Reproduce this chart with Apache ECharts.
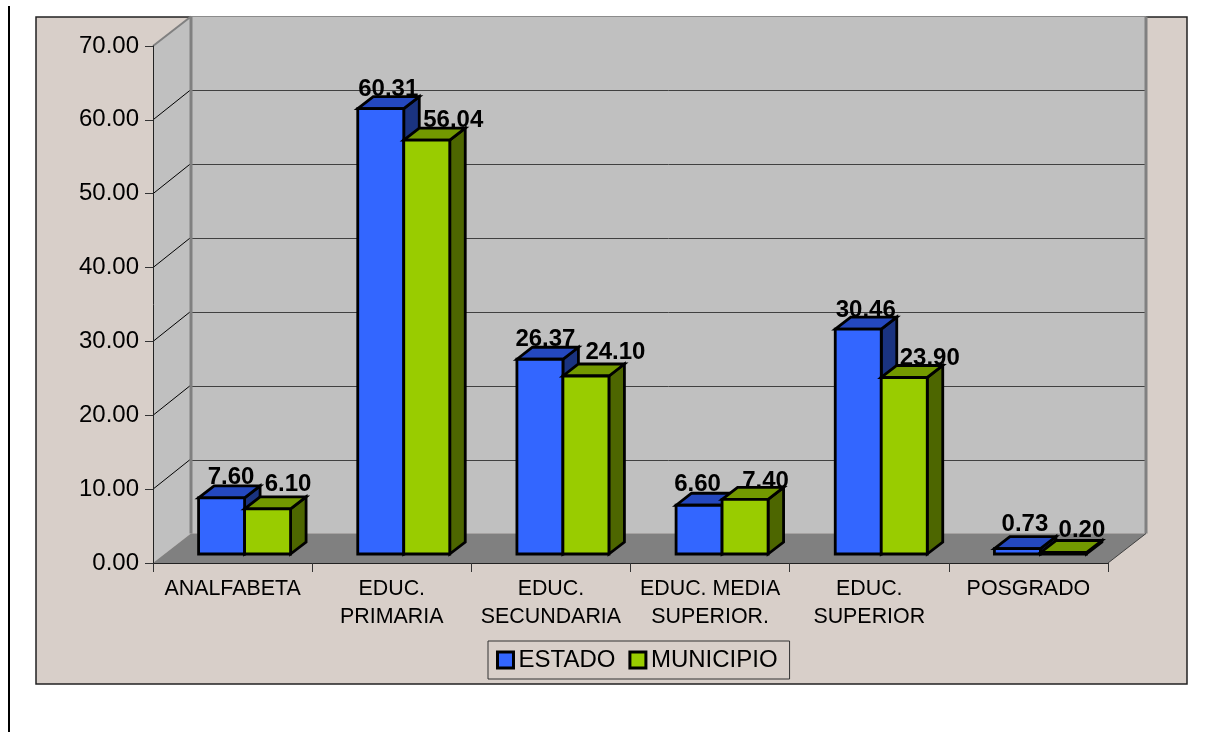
<!DOCTYPE html>
<html>
<head>
<meta charset="utf-8">
<style>html,body{margin:0;padding:0;background:#fff}#c{width:1205px;height:732px}</style>
<script src="https://cdn.jsdelivr.net/npm/echarts@6/dist/echarts.min.js"></script>
</head>
<body>
<div id="c"></div>
<script>
var categories = ['ANALFABETA', 'EDUC.\nPRIMARIA', 'EDUC.\nSECUNDARIA', 'EDUC. MEDIA\nSUPERIOR.', 'EDUC.\nSUPERIOR', 'POSGRADO'];
var estado = [7.60, 60.31, 26.37, 6.60, 30.46, 0.73];
var municipio = [6.10, 56.04, 24.10, 7.40, 23.90, 0.20];
var yTicks = [0, 10, 20, 30, 40, 50, 60, 70];

// Label placement relative to the top-back edge of each bar
var estadoLabelDx = [10, 8, 6, -1, 8, 8];
var estadoLabelDy = [-8, -7, -8, -9, -7, -12];
var municipioLabelDx = [21, 27, 30, 21, 26, 19];
var municipioLabelDy = [-13, -8, -12, -6, -7, -10];

var FONT = '"Liberation Sans", Arial, sans-serif';
var WALL_DX = 38, WALL_DY = 29.5;   // depth of the whole plot box
var BAR_DX = 15.5, BAR_DY = 12;   // depth of a bar
var FRONT_DX = 12, FRONT_DY = 9; // gap in front of the bars
var BAR_W = 46;

function poly(points, fill, stroke, lw) {
  return { type: 'polygon', shape: { points: points },
    style: { fill: fill, stroke: stroke || null, lineWidth: lw || 0, lineJoin: 'miter' } };
}
function seg(x1, y1, x2, y2, stroke, lw) {
  return { type: 'line', shape: { x1: x1, y1: y1, x2: x2, y2: y2 },
    style: { stroke: stroke, lineWidth: lw, fill: null } };
}

function renderWalls(params, api) {
  var r = params.coordSys, L = r.x, T = r.y, R = r.x + r.width, B = r.y + r.height;
  var kids = [
    poly([[L, T], [L + WALL_DX, T - WALL_DY], [L + WALL_DX, B - WALL_DY], [L, B]], '#C0C0C0'),
    poly([[L + WALL_DX, T - WALL_DY], [R + WALL_DX, T - WALL_DY], [R + WALL_DX, B - WALL_DY], [L + WALL_DX, B - WALL_DY]], '#C0C0C0'),
    poly([[L, B], [L + WALL_DX, B - WALL_DY], [R + WALL_DX, B - WALL_DY], [R, B]], '#808080')
  ];
  yTicks.forEach(function (t) {
    var y = api.coord([0, t])[1];
    if (t > 0 && t < yTicks[yTicks.length - 1]) {
      kids.push(seg(L + WALL_DX, Math.round(y - WALL_DY) + 0.5, R + WALL_DX, Math.round(y - WALL_DY) + 0.5, '#404040', 1));
      kids.push(seg(L, y, L + WALL_DX - 1, y - WALL_DY, '#000', 1));
    }
  });
  kids.push(seg(L, T, L + WALL_DX, T - WALL_DY, '#808080', 2));
  kids.push(seg(L + WALL_DX, T - WALL_DY, L + WALL_DX, B - WALL_DY, '#808080', 3));
  kids.push(seg(R + WALL_DX, T - WALL_DY, R + WALL_DX, B - WALL_DY, '#808080', 3));
  kids.push(seg(R, B, R + WALL_DX, B - WALL_DY, '#404040', 1));
  return { type: 'group', children: kids };
}

function barRenderer(slot, front, top, side, dxs, dys) {
  return function (params, api) {
    var i = api.value(0), v = api.value(1);
    var base = api.coord([i, 0]), peak = api.coord([i, v]);
    var x0 = base[0] + FRONT_DX + slot * BAR_W, x1 = x0 + BAR_W;
    var yB = base[1] - FRONT_DY, yT = peak[1] - FRONT_DY;
    var lw = 2.8, edge = '#000';
    return { type: 'group', children: [
      poly([[x1, yT], [x1 + BAR_DX, yT - BAR_DY], [x1 + BAR_DX, yB - BAR_DY], [x1, yB]], side, edge, lw),
      poly([[x0, yT], [x0 + BAR_DX, yT - BAR_DY], [x1 + BAR_DX, yT - BAR_DY], [x1, yT]], top, edge, lw),
      poly([[x0, yT], [x1, yT], [x1, yB], [x0, yB]], front, edge, lw),
      { type: 'text', z2: 50, style: {
        text: v.toFixed(2),
        x: (x0 + x1) / 2 - 0.5 + dxs[i],
        y: yT - BAR_DY + dys[i],
        align: 'center', verticalAlign: 'middle',
        font: 'bold 24px ' + FONT, fill: '#000' } }
    ] };
  };
}

function pairs(arr) { return arr.map(function (v, i) { return [i, v]; }); }

var chart = echarts.init(document.getElementById('c'), null, { width: 1205, height: 732 });
chart.setOption({
  animation: false,
  backgroundColor: '#fff',
  graphic: [
    { type: 'rect', z: -10, silent: true, shape: { x: 36, y: 17, width: 1151, height: 667 },
      style: { fill: '#D8CFC9', stroke: '#222', lineWidth: 1.5 } },
    { type: 'line', z: -10, silent: true, shape: { x1: 9, y1: 6, x2: 9, y2: 732 },
      style: { stroke: '#000', lineWidth: 2 } }
  ],
  grid: { left: 153, top: 46, width: 955, height: 517, containLabel: false },
  legend: {
    left: 488, top: 641,
    data: ['ESTADO', 'MUNICIPIO'],
    icon: 'rect', itemWidth: 16, itemHeight: 16, itemGap: 13,
    padding: [7, 12, 7, 8],
    borderColor: '#333', borderWidth: 1, backgroundColor: '#D8CFC9',
    itemStyle: { borderColor: '#000', borderWidth: 3 },
    textStyle: { fontFamily: FONT, fontSize: 24, color: '#000', padding: [2, 0, 0, 0] }
  },
  xAxis: {
    type: 'category', data: categories, z: 5,
    axisLine: { lineStyle: { color: '#222', width: 1 } },
    axisTick: { show: true, length: 9, alignWithLabel: false, lineStyle: { color: '#333' } },
    axisLabel: { interval: 0, margin: 12, fontFamily: FONT, fontSize: 21.4, lineHeight: 28, color: '#000' }
  },
  yAxis: {
    type: 'value', min: yTicks[0], max: yTicks[yTicks.length - 1], interval: 10, z: 5,
    axisLine: { show: true, lineStyle: { color: '#222', width: 1 } },
    axisTick: { show: true, length: 8, lineStyle: { color: '#333' } },
    splitLine: { show: false },
    axisLabel: { margin: 14, fontFamily: FONT, fontSize: 24, color: '#000', padding: [3, 0, 0, 0],
      formatter: function (v) { return v.toFixed(2); } }
  },
  series: [
    { type: 'custom', z: 1, silent: true, coordinateSystem: 'cartesian2d', encode: { x: 0, y: 1 },
      data: [[0, 0]], renderItem: renderWalls },
    { type: 'custom', name: 'ESTADO', z: 2, coordinateSystem: 'cartesian2d', encode: { x: 0, y: 1 },
      itemStyle: { color: '#3366FF' }, data: pairs(estado),
      renderItem: barRenderer(-1, '#3366FF', '#2448BF', '#1A3380', estadoLabelDx, estadoLabelDy) },
    { type: 'custom', name: 'MUNICIPIO', z: 3, coordinateSystem: 'cartesian2d', encode: { x: 0, y: 1 },
      itemStyle: { color: '#99CC00' }, data: pairs(municipio),
      renderItem: barRenderer(0, '#99CC00', '#739900', '#4D6600', municipioLabelDx, municipioLabelDy) }
  ]
});
</script>
</body>
</html>
